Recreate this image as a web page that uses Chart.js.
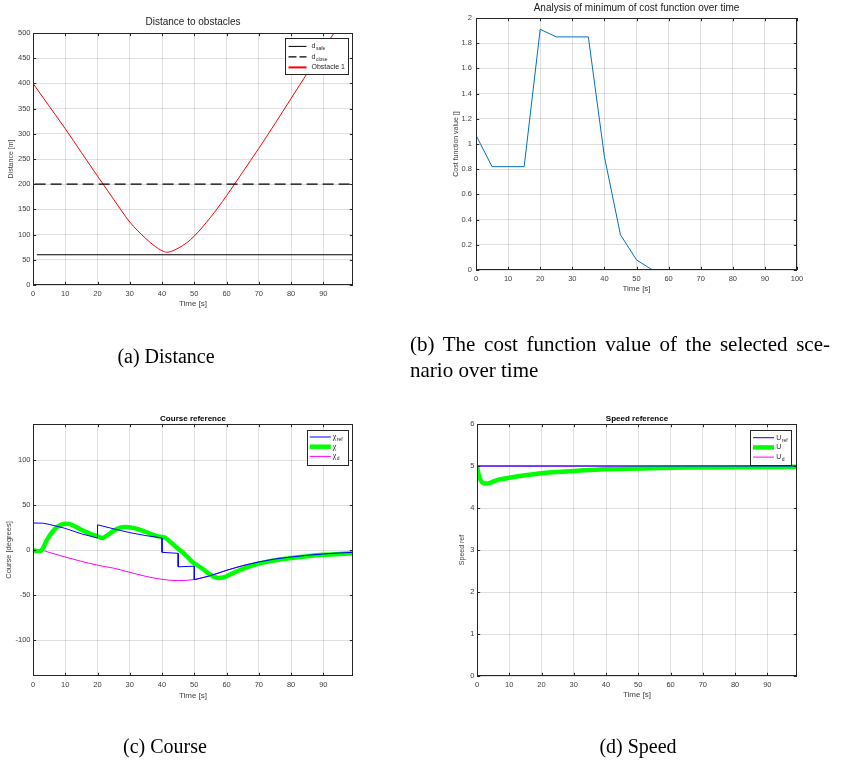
<!DOCTYPE html>
<html><head><meta charset="utf-8">
<script src="https://cdn.jsdelivr.net/npm/chart.js@4.4.1/dist/chart.umd.min.js"></script>
<style>
html,body{margin:0;padding:0;background:#fff;}
#wrap{position:relative;width:854px;height:766px;overflow:hidden;background:#fff;}
canvas{position:absolute;left:0;top:0;}
.cap{position:absolute;font-family:'Liberation Serif','DejaVu Serif',serif;font-size:20px;color:#000;white-space:nowrap;line-height:26px;}
.capb{position:absolute;font-family:'Liberation Serif','DejaVu Serif',serif;font-size:21px;color:#000;line-height:26px;}
</style></head><body>
<div id="wrap">
<canvas id="cA" width="854" height="766"></canvas>
<canvas id="cB" width="854" height="766"></canvas>
<canvas id="cC" width="854" height="766"></canvas>
<canvas id="cD" width="854" height="766"></canvas>
<div class="cap" style="left:66px;width:200px;text-align:center;top:343px">(a) Distance</div>
<div class="capb" style="left:410px;top:331px;width:420px;text-align:justify;text-align-last:justify;white-space:nowrap">(b) The cost function value of the selected sce-</div>
<div class="capb" style="left:410px;top:357px;white-space:nowrap">nario over time</div>
<div class="cap" style="left:65px;width:200px;text-align:center;top:733px">(c) Course</div>
<div class="cap" style="left:538px;width:200px;text-align:center;top:733px">(d) Speed</div>
</div>
<script>
// ---------- (a) Distance to obstacles ----------
const distTime     = [0, 5, 10, 15, 20, 25, 30, 35, 38, 40, 41.5, 43, 45, 47.5, 50, 55, 60, 65, 70, 75, 80, 85, 90, 95];
const distObstacle = [400, 355, 310, 263, 216, 170, 125, 92, 76, 68, 65, 67, 73, 83, 97, 134, 177, 224, 271, 320, 370, 420, 468, 516];
const dSafeTime  = [1.2, 99.2];
const dSafe      = [60, 60];
const dCloseTime = [0.5, 99.2];
const dClose     = [200, 200];
const distXTicks = [0, 10, 20, 30, 40, 50, 60, 70, 80, 90];
const distYTicks = [0, 50, 100, 150, 200, 250, 300, 350, 400, 450, 500];

// ---------- (b) Cost function ----------
const costTime  = [0, 5, 10, 15, 20, 25, 30, 35, 40, 45, 50, 55, 60, 65, 70, 75, 80, 85, 90, 95];
const costValue = [1.07, 0.82, 0.82, 0.82, 1.91, 1.85, 1.85, 1.85, 0.9, 0.28, 0.08, 0, 0, 0, 0, 0, 0, 0, 0, 0];
const costXTicks = [0, 10, 20, 30, 40, 50, 60, 70, 80, 90, 100];
const costYTicks = [0, 0.2, 0.4, 0.6, 0.8, 1, 1.2, 1.4, 1.6, 1.8, 2];

// ---------- (c) Course reference ----------
const courseRefTime = [0, 3, 5, 10, 15, 20, 20, 25, 30, 35, 40, 40, 45, 45, 50, 50, 55, 60, 65, 70, 75, 80, 85, 90, 95, 99.2];
const courseRef     = [30, 29.8, 28.5, 24, 18, 13.3, 28, 23.5, 19.3, 16, 13.3, -2.6, -3.7, -18.7, -18, -33, -28.5, -22.6, -17.4, -13.3, -10, -7.8, -5.9, -4.4, -3.3, -2.6];
const courseTime = [0, 1, 2, 3, 4, 5, 6, 7, 8, 9, 10, 11, 12, 15, 18, 20, 21.5, 23, 25, 27, 29, 32, 35, 38, 40, 41, 43, 45, 47, 48.5, 50, 51, 53, 55, 57.5, 59, 62, 66, 70, 75, 80, 85, 90, 95, 99.2];
const course     = [0, -1, -1.5, 1.5, 9, 15, 20, 24, 26.8, 28.6, 29.3, 29, 28, 22.6, 17.7, 15.1, 13.3, 16.3, 21.4, 24.8, 25.5, 23.7, 20, 15.9, 14.4, 13.6, 7.7, 1.4, -4.5, -10, -15, -17, -22, -27.4, -31, -30.5, -25.6, -19.5, -15, -11.5, -9, -7, -5.4, -4.4, -3.6];
const courseDesTime = [0, 2, 5, 10, 15, 20, 25, 30, 35, 40, 45, 50, 55, 60, 65, 70, 75, 80, 85, 90, 95, 99.2];
const courseDes     = [0, 0, -2.6, -7.8, -12.6, -16.9, -20.2, -24.8, -29.3, -32.6, -34, -32.8, -28.5, -22.6, -17.4, -13.3, -10, -7.8, -5.9, -4.4, -3.3, -2.6];
const courseXTicks = [0, 10, 20, 30, 40, 50, 60, 70, 80, 90];
const courseYTicks = [-100, -50, 0, 50, 100];

// ---------- (d) Speed reference ----------
const speedRefTime = [0, 99.2];
const speedRef     = [5, 5];
const speedTime = [0, 0.5, 1, 1.5, 2, 3, 4, 5, 7, 10, 15, 20, 30, 40, 50, 60, 70, 80, 90, 99.2];
const speed     = [5, 4.8, 4.68, 4.62, 4.59, 4.585, 4.6, 4.63, 4.68, 4.72, 4.78, 4.83, 4.88, 4.92, 4.94, 4.96, 4.965, 4.97, 4.975, 4.98];
const speedDesTime = [0, 99.2];
const speedDes     = [5, 5];
const speedXTicks = [0, 10, 20, 30, 40, 50, 60, 70, 80, 90];
const speedYTicks = [0, 1, 2, 3, 4, 5, 6];

// ---------- helpers ----------
const GRID = 'rgba(38,38,38,0.14)';
const AXC = '#262626';
const TXT = '#404040';
Chart.defaults.font.family = "'Liberation Sans', Arial, sans-serif";
Chart.defaults.color = TXT;

function pts(xs, ys) { return xs.map((x, i) => ({ x: x, y: ys[i] })); }

const matlabBox = {
  id: 'matlabBox',
  afterDatasetsDraw(chart) {
    const { ctx, chartArea: a, scales } = chart;
    const x = scales.x, y = scales.y, L = 3.2;
    ctx.save();
    ctx.strokeStyle = AXC; ctx.lineWidth = 1;
    ctx.beginPath();
    x.ticks.forEach(t => {
      const px = Math.round(x.getPixelForValue(t.value)) + 0.5;
      ctx.moveTo(px, a.bottom); ctx.lineTo(px, a.bottom - L);
      ctx.moveTo(px, a.top); ctx.lineTo(px, a.top + L);
    });
    y.ticks.forEach(t => {
      const py = Math.round(y.getPixelForValue(t.value)) + 0.5;
      ctx.moveTo(a.left, py); ctx.lineTo(a.left + L, py);
      ctx.moveTo(a.right, py); ctx.lineTo(a.right - L, py);
    });
    ctx.stroke();
    ctx.strokeRect(a.left + 0.5, a.top + 0.5, a.right - a.left - 1, a.bottom - a.top - 1);
    ctx.restore();
  }
};

const panelTitle = {
  id: 'panelTitle',
  afterDraw(chart, args, o) {
    if (!o || !o.text) return;
    const { ctx, chartArea: a } = chart;
    ctx.save();
    ctx.font = o.font; ctx.fillStyle = o.color || '#000';
    ctx.textAlign = 'center'; ctx.textBaseline = 'middle';
    ctx.fillText(o.text, (a.left + a.right) / 2, a.top - o.offset);
    ctx.restore();
  }
};

const boxLegend = {
  id: 'boxLegend',
  afterDraw(chart, args, o) {
    if (!o || !o.width) return;
    const { ctx, chartArea: a } = chart;
    const bx = a.right - o.right - o.width, by = a.top + o.top;
    ctx.save();
    ctx.fillStyle = '#fff';
    ctx.fillRect(bx, by, o.width, o.height);
    ctx.strokeStyle = AXC; ctx.lineWidth = 1;
    ctx.strokeRect(Math.round(bx) + 0.5, Math.round(by) + 0.5, Math.round(o.width), Math.round(o.height));
    chart.data.datasets.forEach((ds, i) => {
      const cy = by + o.firstRow + i * o.rowStep;
      ctx.save();
      ctx.strokeStyle = ds.borderColor;
      ctx.lineWidth = ds.legendWidth || ds.borderWidth;
      ctx.setLineDash(ds.legendDash || ds.borderDash || []);
      ctx.beginPath();
      ctx.moveTo(bx + o.lineX, cy); ctx.lineTo(bx + o.lineX + o.lineLen, cy);
      ctx.stroke();
      ctx.restore();
      const parts = ds.label.split('_');
      ctx.fillStyle = AXC;
      ctx.textAlign = 'left'; ctx.textBaseline = 'middle';
      ctx.font = o.font;
      const tx = bx + o.textX;
      ctx.fillText(parts[0], tx, cy);
      if (parts[1]) {
        const w = ctx.measureText(parts[0]).width;
        ctx.font = o.subFont;
        ctx.fillText(parts[1], tx + w + 0.5, cy + 2.5);
      }
    });
    ctx.restore();
  }
};

function scaleCfg(axis, opt) {
  return {
    type: 'linear',
    min: opt.min, max: opt.max,
    grid: { color: GRID, lineWidth: 1, drawTicks: false },
    border: { display: false },
    ticks: {
      font: { size: 7.5, lineHeight: 1.2 },
      color: TXT,
      padding: opt.tickPad,
      autoSkip: false,
      maxRotation: 0,
      callback: v => String(v)
    },
    title: {
      display: true, text: opt.title, color: TXT,
      font: { size: opt.titleSize || 8, lineHeight: 1.2 },
      padding: opt.titlePad
    },
    afterBuildTicks: s => { s.ticks = opt.ticks.map(v => ({ value: v })); },
    afterFit: axis === 'x' ? (s => { s.height = 25; }) : (s => { s.width = 30; })
  };
}

function makeChart(id, area, datasets, xs, ys, title, legend) {
  const W = 854, H = 766;
  return new Chart(document.getElementById(id), {
    type: 'line',
    data: { datasets: datasets },
    options: {
      responsive: false, animation: false, devicePixelRatio: 1, events: [],
      layout: { padding: { left: area.L - 30, top: area.T, right: W - area.R, bottom: H - area.B - 25 } },
      elements: { point: { radius: 0 }, line: { tension: 0 } },
      scales: { x: scaleCfg('x', xs), y: scaleCfg('y', ys) },
      plugins: {
        legend: { display: false }, tooltip: { enabled: false },
        panelTitle: title, boxLegend: legend
      }
    },
    plugins: [matlabBox, panelTitle, boxLegend]
  });
}

// (a)
makeChart('cA', { L: 33, T: 33, R: 353, B: 285 }, [
  { label: 'd_safe', data: pts(dSafeTime, dSafe), borderColor: '#000', borderWidth: 1, clip: 0 },
  { label: 'd_close', data: pts(dCloseTime, dClose), borderColor: '#000', borderWidth: 1.3, borderDash: [11, 5], legendDash: [8, 3], legendWidth: 1.3, clip: 0 },
  { label: 'Obstacle 1', data: pts(distTime, distObstacle), borderColor: '#ff0000', borderWidth: 1, cubicInterpolationMode: 'monotone', legendWidth: 2, clip: 0 }
],
  { min: 0, max: 99.2, ticks: distXTicks, title: 'Time [s]', tickPad: 4, titlePad: { top: 0, bottom: 1.9 } },
  { min: 0, max: 500, ticks: distYTicks, title: 'Distance [m]', tickPad: 2.5, titleSize: 7, titlePad: { top: 4.2, bottom: 0 } },
  { text: 'Distance to obstacles', font: "10px 'Liberation Sans'", color: '#1a1a1a', offset: 11 },
  { right: 5.5, top: 5, width: 63, height: 36, firstRow: 8.4, rowStep: 10.5, lineX: 4, lineLen: 18, textX: 27,
    font: "7px 'Liberation Sans'", subFont: "5px 'Liberation Sans'" }
);

// (b)
makeChart('cB', { L: 476, T: 18, R: 797, B: 270 }, [
  { label: 'cost', data: pts(costTime, costValue), borderColor: '#0072BD', borderWidth: 1, clip: 0 }
],
  { min: 0, max: 100, ticks: costXTicks, title: 'Time [s]', tickPad: 4, titlePad: { top: 0, bottom: 1.2 } },
  { min: 0, max: 2, ticks: costYTicks, title: 'Cost function value []', tickPad: 4, titleSize: 7, titlePad: { top: 6, bottom: 0 } },
  { text: 'Analysis of minimum of cost function over time', font: "10px 'Liberation Sans'", color: '#1a1a1a', offset: 9.7 },
  null
);

// (c)
makeChart('cC', { L: 33, T: 424, R: 353, B: 676 }, [
  { label: 'χ_ref', data: pts(courseRefTime, courseRef), borderColor: '#0000ff', borderWidth: 1, clip: 0 },
  { label: 'χ', data: pts(courseTime, course), borderColor: '#00ff00', borderWidth: 4.5, cubicInterpolationMode: 'monotone', clip: 0 },
  { label: 'χ_d', data: pts(courseDesTime, courseDes), borderColor: '#ff00ff', borderWidth: 1, cubicInterpolationMode: 'monotone', clip: 0 }
],
  { min: 0, max: 99.2, ticks: courseXTicks, title: 'Time [s]', tickPad: 4, titlePad: { top: 0, bottom: 0.9 } },
  { min: -140, max: 140, ticks: courseYTicks, title: 'Course [degrees]', tickPad: 2.5, titleSize: 7.5, titlePad: { top: 1, bottom: 0 } },
  { text: 'Course reference', font: "bold 8px 'Liberation Sans'", color: '#000', offset: 5.7 },
  { right: 5.5, top: 6, width: 41, height: 35, firstRow: 7, rowStep: 9.7, lineX: 3.3, lineLen: 21, textX: 26.3,
    font: "8px 'Liberation Serif'", subFont: "5px 'Liberation Sans'" }
);

// (d)
makeChart('cD', { L: 477, T: 424, R: 797, B: 676 }, [
  { label: 'U_ref', data: pts(speedRefTime, speedRef), borderColor: '#0000ff', borderWidth: 1, clip: 0 },
  { label: 'U', data: pts(speedTime, speed), borderColor: '#00ff00', borderWidth: 4.5, cubicInterpolationMode: 'monotone', clip: 0 },
  { label: 'U_d', data: pts(speedDesTime, speedDes), borderColor: '#ff00ff', borderWidth: 1, clip: 0 }
],
  { min: 0, max: 99.2, ticks: speedXTicks, title: 'Time [s]', tickPad: 4, titlePad: { top: 0, bottom: 1.2 } },
  { min: 0, max: 6, ticks: speedYTicks, title: 'Speed ref', tickPad: 2.5, titleSize: 7, titlePad: { top: 11, bottom: 0 } },
  { text: 'Speed reference', font: "bold 8px 'Liberation Sans'", color: '#000', offset: 5.7 },
  { right: 6, top: 6, width: 41.4, height: 35, firstRow: 7.7, rowStep: 9.7, lineX: 3.4, lineLen: 21, textX: 26.7,
    font: "7px 'Liberation Sans'", subFont: "5px 'Liberation Sans'" }
);
</script>
</body></html>
